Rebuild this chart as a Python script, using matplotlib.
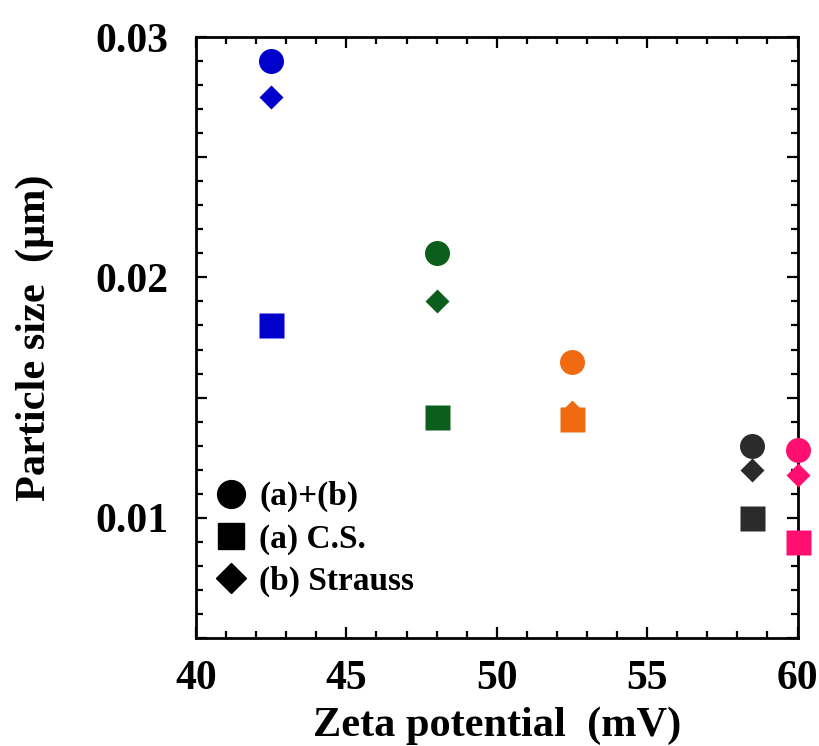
import matplotlib
matplotlib.use("Agg")
import matplotlib.pyplot as plt
from matplotlib.lines import Line2D
from matplotlib.ticker import MultipleLocator, FuncFormatter

# zeta potential (mV) for each sample
zeta = [42.5, 48.0, 52.5, 58.5, 60.0]
colors = ["#0000cc", "#0b5e1c", "#f06a12", "#2b2b2b", "#ff1070"]

# particle size (um)
size_total = [0.0290, 0.0210, 0.0165, 0.0130, 0.0128]     # (a)+(b)
size_cs = [0.0180, 0.0142, 0.0141, 0.0100, 0.0090]        # (a) C.S.
size_strauss = [0.0275, 0.0190, 0.0144, 0.0120, 0.0118]  # (b) Strauss

legend_labels = ["(a)+(b)", "(a) C.S.", "(b) Strauss"]

plt.rcParams["font.family"] = ["Liberation Serif", "DejaVu Serif"]
plt.rcParams["font.weight"] = "bold"

fig = plt.figure(figsize=(8.19, 7.46), dpi=100)
ax = fig.add_axes([196 / 819, 1 - 638 / 746, 601.5 / 819, 601 / 746])

for x, c, yc, ys, yd in zip(zeta, colors, size_total, size_cs, size_strauss):
    ax.plot(x, ys, "s", ms=18, color=c, mec="none", clip_on=False, zorder=3)
    ax.plot(x, yd, "D", ms=12, color=c, mec="none", clip_on=False, zorder=4)
    ax.plot(x, yc, "o", ms=18, color=c, mec="none", clip_on=False, zorder=5)

ax.set_xlim(40, 60)
ax.set_ylim(0.005, 0.03)
ax.xaxis.set_major_locator(MultipleLocator(5))
ax.xaxis.set_minor_locator(MultipleLocator(1))
ax.yaxis.set_major_locator(MultipleLocator(0.005))
ax.yaxis.set_minor_locator(MultipleLocator(0.001))
ax.yaxis.set_major_formatter(
    FuncFormatter(lambda v, p: f"{v:.2f}" if abs(round(v * 100) - v * 100) < 1e-6 else "")
)

ax.tick_params(which="both", direction="in", top=True, right=True, width=1.6)
ax.tick_params(which="major", length=8)
ax.tick_params(which="minor", length=5)
ax.tick_params(axis="y", which="major", labelsize=30, pad=20)
ax.tick_params(axis="x", which="major", labelsize=30, pad=16)
for lab in ax.get_xticklabels() + ax.get_yticklabels():
    lab.set_fontweight("bold")
for s in ax.spines.values():
    s.set_linewidth(2)

ax.set_xlabel("Zeta potential  (mV)", fontsize=30.5, fontweight="bold", labelpad=6)
ax.set_ylabel("Particle size  (\u03bcm)", fontsize=30.5, fontweight="bold")
ax.yaxis.set_label_coords(-0.236, 0.5)

handles = [
    Line2D([], [], ls="none", marker="o", ms=20, color="black"),
    Line2D([], [], ls="none", marker="s", ms=19, color="black"),
    Line2D([], [], ls="none", marker="D", ms=15, color="black"),
]
ax.legend(handles, legend_labels, loc="upper left", bbox_to_anchor=(0.005, 0.283),
          frameon=False, prop={"size": 24, "weight": "bold"},
          handlelength=1.1, handletextpad=0.3, labelspacing=0.33, borderaxespad=0)

fig.savefig("out.png", dpi=100)
